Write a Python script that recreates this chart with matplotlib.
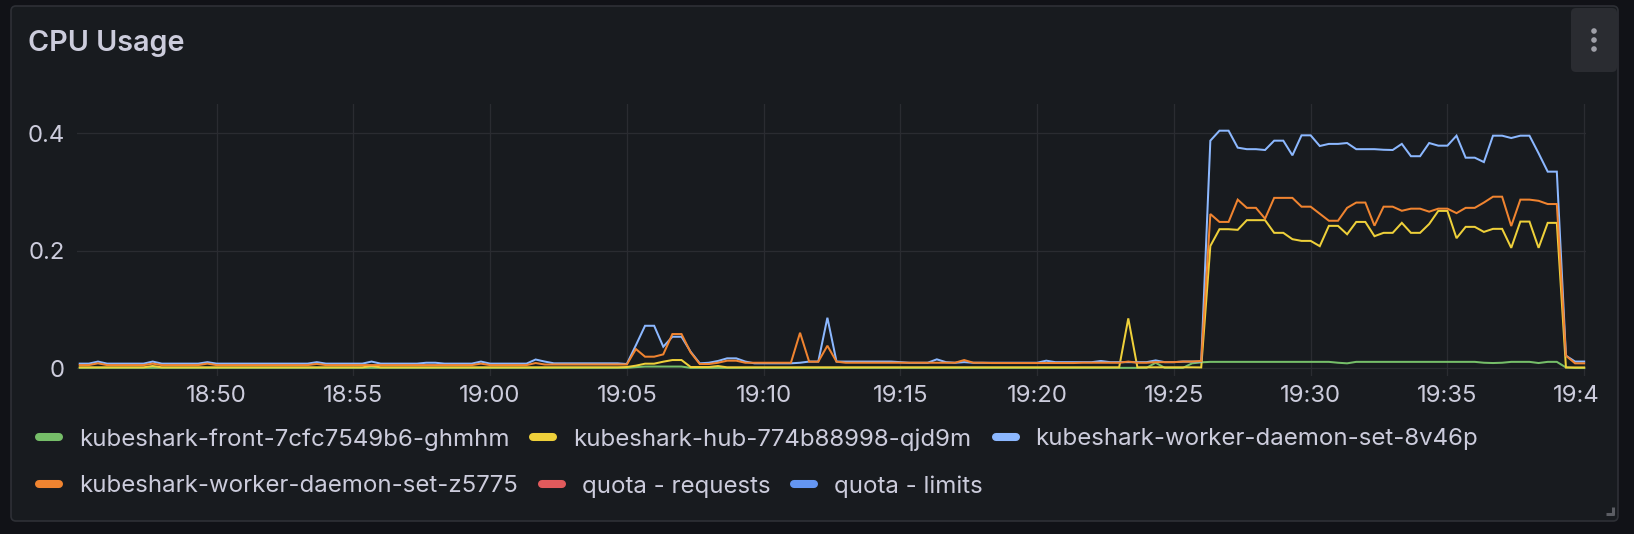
import numpy as np
import pandas as pd
import matplotlib
matplotlib.use('Agg')
import matplotlib.pyplot as plt
from matplotlib.patches import FancyBboxPatch, Circle
from matplotlib.transforms import Bbox

plt.rcParams['font.family'] = ['Inter', 'DejaVu Sans']

W, H, DPI = 1634, 534, 100

# ---------------- data ----------------
title = "CPU Usage"
series_names = [
    "kubeshark-front-7cfc7549b6-ghmhm",
    "kubeshark-hub-774b88998-qjd9m",
    "kubeshark-worker-daemon-set-8v46p",
    "kubeshark-worker-daemon-set-z5775",
    "quota - requests",
    "quota - limits",
]
series_colors = ["#76be69", "#eed03a", "#8cb8ff", "#f08430", "#e15a5c", "#6496f2"]

start_time = "2024-01-01 18:45:00"
n_points = 166
times = pd.date_range(start_time, periods=n_points, freq="20s")

front = [
    0.0003, 0.0003, 0.0003, 0.0003, 0.0003, 0.0003, 0.0003, 0.0003, 0.0003, 0.0003,
    0.0003, 0.0003, 0.0003, 0.0003, 0.0003, 0.0003, 0.0003, 0.0003, 0.0003, 0.0003,
    0.0003, 0.0003, 0.0003, 0.0003, 0.0003, 0.0003, 0.0003, 0.0003, 0.0003, 0.0003,
    0.0003, 0.0003, 0.0003, 0.0003, 0.0003, 0.0003, 0.0003, 0.0003, 0.0003, 0.0003,
    0.0003, 0.0003, 0.0003, 0.0003, 0.0003, 0.0003, 0.0003, 0.0003, 0.0003, 0.0003,
    0.0003, 0.0003, 0.0003, 0.0003, 0.0003, 0.0003, 0.0003, 0.0003, 0.0003, 0.0003,
    0.0003, 0.0015, 0.0025, 0.0025, 0.0025, 0.0025, 0.0025, 0.0003, 0.0003, 0.0003,
    0.0003, 0.0003, 0.0003, 0.0003, 0.0003, 0.0003, 0.0003, 0.0003, 0.0003, 0.0003,
    0.0003, 0.0003, 0.0003, 0.0003, 0.0003, 0.0003, 0.0003, 0.0003, 0.0003, 0.0003,
    0.0003, 0.0003, 0.0003, 0.0003, 0.0003, 0.0003, 0.0003, 0.0003, 0.0003, 0.0003,
    0.0003, 0.0003, 0.0003, 0.0003, 0.0003, 0.0003, 0.0003, 0.0003, 0.0003, 0.0003,
    0.0003, 0.0003, 0.0003, 0.0003, 0.0003, 0.0003, 0.0003, 0.0003, 0.0090, 0.0003,
    0.0003, 0.0003, 0.0080, 0.0097, 0.0105, 0.0105, 0.0105, 0.0105, 0.0105, 0.0105,
    0.0105, 0.0105, 0.0105, 0.0105, 0.0105, 0.0105, 0.0105, 0.0105, 0.0090, 0.0080,
    0.0105, 0.0105, 0.0105, 0.0105, 0.0105, 0.0105, 0.0105, 0.0105, 0.0105, 0.0105,
    0.0105, 0.0105, 0.0105, 0.0105, 0.0090, 0.0085, 0.0090, 0.0105, 0.0105, 0.0105,
    0.0085, 0.0105, 0.0105, 0.0010, 0.0000, 0.0000,
]

hub = [
    0.0012, 0.0012, 0.0012, 0.0012, 0.0012, 0.0012, 0.0012, 0.0012, 0.0034, 0.0012,
    0.0012, 0.0012, 0.0012, 0.0012, 0.0012, 0.0012, 0.0012, 0.0012, 0.0012, 0.0012,
    0.0012, 0.0012, 0.0012, 0.0012, 0.0012, 0.0012, 0.0012, 0.0012, 0.0012, 0.0012,
    0.0012, 0.0012, 0.0034, 0.0012, 0.0012, 0.0012, 0.0012, 0.0012, 0.0012, 0.0012,
    0.0012, 0.0012, 0.0012, 0.0012, 0.0012, 0.0012, 0.0012, 0.0012, 0.0012, 0.0012,
    0.0012, 0.0012, 0.0012, 0.0012, 0.0012, 0.0012, 0.0012, 0.0012, 0.0012, 0.0012,
    0.0017, 0.0040, 0.0074, 0.0074, 0.0108, 0.0136, 0.0136, 0.0017, 0.0017, 0.0017,
    0.0034, 0.0012, 0.0012, 0.0012, 0.0012, 0.0012, 0.0012, 0.0012, 0.0012, 0.0012,
    0.0012, 0.0012, 0.0012, 0.0012, 0.0012, 0.0012, 0.0012, 0.0012, 0.0012, 0.0012,
    0.0012, 0.0012, 0.0012, 0.0012, 0.0012, 0.0012, 0.0012, 0.0012, 0.0012, 0.0012,
    0.0012, 0.0012, 0.0012, 0.0012, 0.0012, 0.0012, 0.0012, 0.0012, 0.0012, 0.0012,
    0.0012, 0.0012, 0.0012, 0.0012, 0.0012, 0.0846, 0.0012, 0.0012, 0.0012, 0.0012,
    0.0012, 0.0012, 0.0012, 0.0010, 0.2080, 0.2366, 0.2366, 0.2355, 0.2520, 0.2520,
    0.2520, 0.2304, 0.2304, 0.2196, 0.2167, 0.2167, 0.2077, 0.2423, 0.2423, 0.2280,
    0.2490, 0.2490, 0.2247, 0.2304, 0.2304, 0.2474, 0.2304, 0.2304, 0.2455, 0.2678,
    0.2678, 0.2213, 0.2406, 0.2406, 0.2320, 0.2372, 0.2372, 0.2048, 0.2496, 0.2496,
    0.2048, 0.2474, 0.2474, 0.0010, 0.0010, 0.0010,
]

worker_8v46p = [
    0.0075, 0.0075, 0.0110, 0.0075, 0.0075, 0.0075, 0.0075, 0.0075, 0.0110, 0.0075,
    0.0075, 0.0075, 0.0075, 0.0075, 0.0100, 0.0075, 0.0075, 0.0075, 0.0075, 0.0075,
    0.0075, 0.0075, 0.0075, 0.0075, 0.0075, 0.0075, 0.0100, 0.0075, 0.0075, 0.0075,
    0.0075, 0.0075, 0.0110, 0.0075, 0.0075, 0.0075, 0.0075, 0.0075, 0.0090, 0.0090,
    0.0075, 0.0075, 0.0075, 0.0075, 0.0110, 0.0075, 0.0075, 0.0075, 0.0075, 0.0075,
    0.0145, 0.0110, 0.0080, 0.0080, 0.0080, 0.0080, 0.0080, 0.0080, 0.0080, 0.0080,
    0.0068, 0.0390, 0.0720, 0.0720, 0.0363, 0.0533, 0.0533, 0.0278, 0.0080, 0.0090,
    0.0120, 0.0165, 0.0165, 0.0110, 0.0080, 0.0080, 0.0080, 0.0080, 0.0080, 0.0090,
    0.0110, 0.0110, 0.0857, 0.0110, 0.0110, 0.0110, 0.0110, 0.0110, 0.0110, 0.0110,
    0.0100, 0.0090, 0.0090, 0.0090, 0.0148, 0.0100, 0.0090, 0.0100, 0.0090, 0.0090,
    0.0090, 0.0090, 0.0090, 0.0090, 0.0090, 0.0090, 0.0125, 0.0100, 0.0100, 0.0100,
    0.0100, 0.0100, 0.0120, 0.0100, 0.0100, 0.0100, 0.0100, 0.0100, 0.0130, 0.0100,
    0.0100, 0.0110, 0.0110, 0.0110, 0.3875, 0.4045, 0.4045, 0.3756, 0.3730, 0.3730,
    0.3716, 0.3875, 0.3875, 0.3625, 0.3966, 0.3966, 0.3784, 0.3820, 0.3820, 0.3835,
    0.3730, 0.3730, 0.3730, 0.3720, 0.3716, 0.3820, 0.3610, 0.3610, 0.3835, 0.3790,
    0.3790, 0.3960, 0.3585, 0.3585, 0.3510, 0.3960, 0.3960, 0.3920, 0.3960, 0.3960,
    0.3660, 0.3347, 0.3347, 0.0210, 0.0110, 0.0110,
]

worker_z5775 = [
    0.0050, 0.0050, 0.0080, 0.0050, 0.0050, 0.0050, 0.0050, 0.0050, 0.0075, 0.0050,
    0.0050, 0.0050, 0.0050, 0.0050, 0.0075, 0.0050, 0.0050, 0.0050, 0.0050, 0.0050,
    0.0050, 0.0050, 0.0050, 0.0050, 0.0050, 0.0050, 0.0070, 0.0050, 0.0050, 0.0050,
    0.0050, 0.0050, 0.0050, 0.0050, 0.0050, 0.0050, 0.0050, 0.0050, 0.0050, 0.0050,
    0.0050, 0.0050, 0.0050, 0.0050, 0.0075, 0.0050, 0.0050, 0.0050, 0.0050, 0.0050,
    0.0085, 0.0060, 0.0060, 0.0060, 0.0060, 0.0060, 0.0060, 0.0060, 0.0060, 0.0060,
    0.0060, 0.0323, 0.0193, 0.0193, 0.0233, 0.0579, 0.0579, 0.0267, 0.0068, 0.0068,
    0.0090, 0.0125, 0.0125, 0.0090, 0.0090, 0.0090, 0.0090, 0.0090, 0.0090, 0.0601,
    0.0108, 0.0108, 0.0380, 0.0108, 0.0090, 0.0090, 0.0090, 0.0090, 0.0090, 0.0090,
    0.0090, 0.0090, 0.0090, 0.0090, 0.0090, 0.0090, 0.0090, 0.0136, 0.0090, 0.0090,
    0.0085, 0.0085, 0.0085, 0.0085, 0.0085, 0.0085, 0.0085, 0.0085, 0.0085, 0.0085,
    0.0090, 0.0090, 0.0090, 0.0090, 0.0090, 0.0110, 0.0090, 0.0090, 0.0100, 0.0100,
    0.0100, 0.0110, 0.0110, 0.0120, 0.2625, 0.2490, 0.2490, 0.2870, 0.2730, 0.2730,
    0.2545, 0.2900, 0.2900, 0.2900, 0.2750, 0.2750, 0.2630, 0.2510, 0.2510, 0.2730,
    0.2820, 0.2820, 0.2426, 0.2750, 0.2750, 0.2680, 0.2716, 0.2716, 0.2665, 0.2716,
    0.2716, 0.2640, 0.2730, 0.2730, 0.2820, 0.2920, 0.2920, 0.2420, 0.2870, 0.2870,
    0.2850, 0.2795, 0.2795, 0.0210, 0.0080, 0.0080,
]

quota_requests = []   # no samples in the visible range
quota_limits = []     # no samples in the visible range

series_values = [front, hub, worker_8v46p, worker_z5775, quota_requests, quota_limits]

y_ticks = [0, 0.2, 0.4]
y_tick_labels = ["0", "0.2", "0.4"]
x_tick_labels = ["18:50", "18:55", "19:00", "19:05", "19:10", "19:15",
                 "19:20", "19:25", "19:30", "19:35", "19:40"]
x_ticks = pd.to_datetime(["2024-01-01 " + t for t in x_tick_labels])
x_range = (pd.Timestamp("2024-01-01 18:44:54"), pd.Timestamp("2024-01-01 19:40:04"))
y_range = (-0.0136, 0.45)

# ---------------- style ----------------
canvas_bg = "#111217"
panel_bg = "#181b1f"
panel_border = "#2e3036"
text_col = "#ccccdc"
grid_col = "#2a2c31"

fig = plt.figure(figsize=(W / DPI, H / DPI), dpi=DPI, facecolor=canvas_bg)

# background / chrome axes in pixel coordinates (y downward)
bg = fig.add_axes([0, 0, 1, 1], zorder=0)
bg.set_xlim(0, W)
bg.set_ylim(H, 0)
bg.axis("off")
bg.patch.set_alpha(0)

bg.add_patch(FancyBboxPatch((11, 6), 1607, 515,
                            boxstyle="round,pad=0,rounding_size=5",
                            fc=panel_bg, ec=panel_border, lw=1.2))
# menu button
bg.add_patch(FancyBboxPatch((1571, 8), 46, 64,
                            boxstyle="round,pad=0,rounding_size=5",
                            fc="#2a2c31", ec="none"))
for cy in (31, 40, 49):
    bg.add_patch(Circle((1594, cy), 2.8, fc="#9fa0a8", ec="none"))
# resize handle
bg.plot([1613, 1613], [507, 515], color="#5b5d63", lw=2.2, solid_capstyle="butt")
bg.plot([1606, 1614], [514, 514], color="#5b5d63", lw=2.2, solid_capstyle="butt")

bg.text(28, 51, title, color=text_col, fontsize=20.7, fontweight=600,
        ha="left", va="baseline")

# main plot axes
L, R, T, B = 77, 1586, 104, 376
ax = fig.add_axes([L / W, 1 - B / H, (R - L) / W, (B - T) / H], zorder=1)
ax.set_facecolor("none")
for s in ax.spines.values():
    s.set_visible(False)

for vals, color in zip(series_values, series_colors):
    if len(vals):
        ax.plot(times, vals, color=color, lw=1.45, solid_joinstyle="miter")

ax.set_xlim(*x_range)
ax.set_ylim(*y_range)
ax.set_yticks(y_ticks)
ax.set_yticklabels(y_tick_labels)
ax.set_xticks(x_ticks)
ax.set_xticklabels(x_tick_labels)
ax.tick_params(axis="both", length=0, labelsize=17.2, labelcolor=text_col)
ax.tick_params(axis="y", pad=9.0)
ax.tick_params(axis="x", pad=6.5)
ax.grid(True, color=grid_col, lw=0.9)
ax.set_axisbelow(True)

fig.canvas.draw()
renderer = fig.canvas.get_renderer()

# clip x tick labels at panel inner edge (last label is cut in the original)
clip = Bbox.from_extents(0, 0, 1598, H)
for lbl in ax.get_xticklabels():
    lbl.set_clip_on(True)
    lbl.set_clip_box(clip)

# legend (flow layout, two rows)
rows = [[0, 1, 2], [3, 4, 5]]
row_y = [437, 484]
for r, idxs in enumerate(rows):
    x = 35
    for i in idxs:
        bg.plot([x + 4, x + 24], [row_y[r], row_y[r]], color=series_colors[i],
                lw=5.8, solid_capstyle="round")
        t = bg.text(x + 44, row_y[r], series_names[i], color=text_col, fontsize=17.3,
                    ha="left", va="center_baseline")
        bb = t.get_window_extent(renderer)
        x = x + 44 + bb.width + 20

fig.savefig("out.png", dpi=DPI, facecolor=canvas_bg)
